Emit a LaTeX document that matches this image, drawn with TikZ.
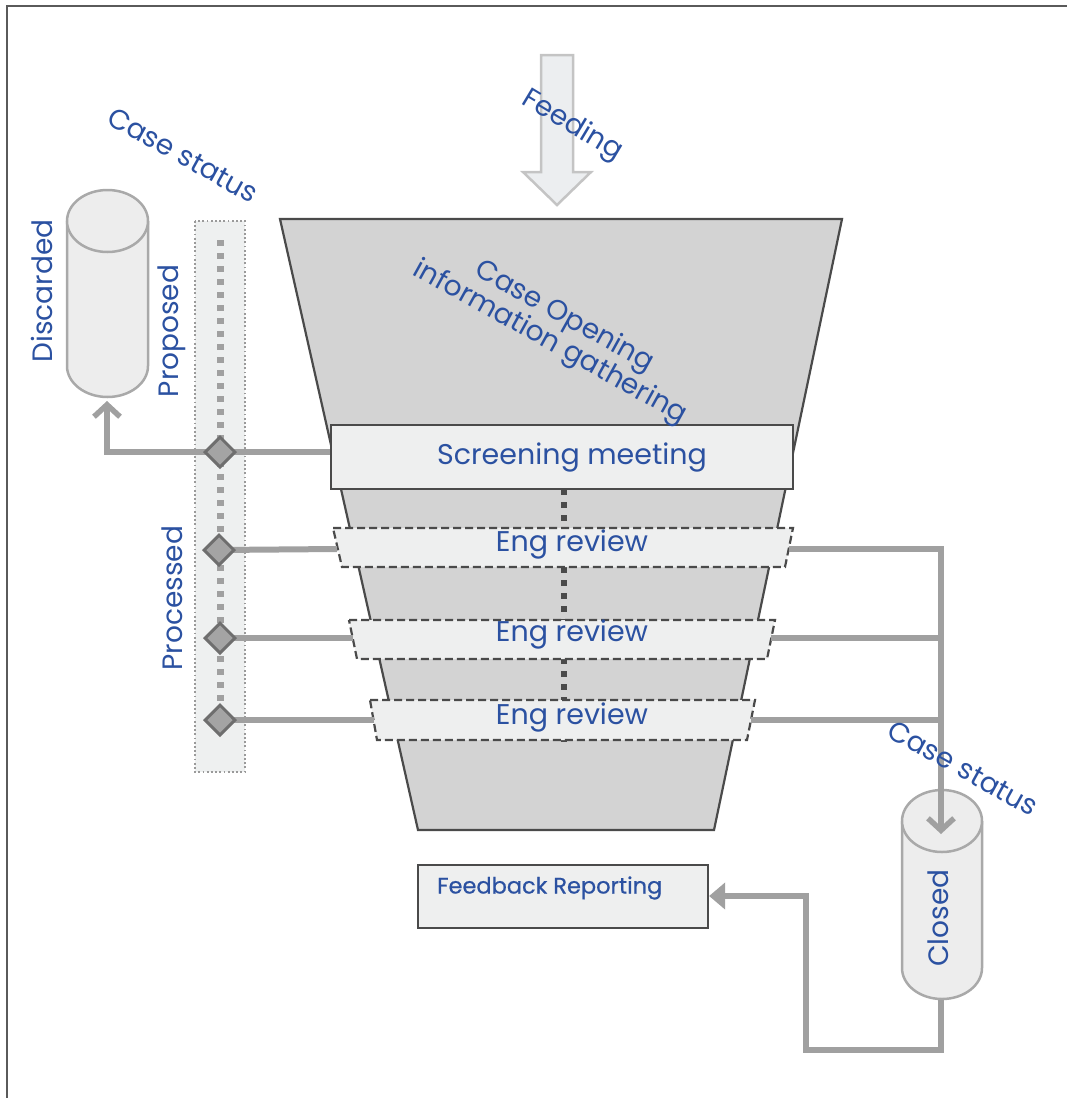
\documentclass[tikz,border=0pt]{standalone}
\usepackage{fontspec}
\setmainfont{Poppins}
\usetikzlibrary{shapes.geometric,arrows.meta}
\definecolor{txtblue}{HTML}{2B51A1}
\definecolor{funfill}{HTML}{D3D3D3}
\definecolor{funline}{HTML}{4A4A4A}
\definecolor{boxfill}{HTML}{EEEFEF}
\definecolor{conn}{HTML}{A0A0A0}
\definecolor{cylfill}{HTML}{EDEDED}
\definecolor{cylline}{HTML}{A9A9A9}
\definecolor{barfill}{HTML}{EEF0F0}
\definecolor{barline}{HTML}{9A9A9A}
\definecolor{diafill}{HTML}{A4A4A4}
\definecolor{dialine}{HTML}{6E6E6E}
\definecolor{feedfill}{HTML}{ECEEF0}
\definecolor{feedline}{HTML}{C4C4C4}
\definecolor{framec}{HTML}{5A5A5A}
\tikzset{
  lbl/.style={text=txtblue, font=\fontsize{28}{32}\selectfont, inner sep=0pt},
  boxlbl/.style={text=txtblue, font=\fontsize{28.5}{32}\selectfont, inner sep=0pt},
  connline/.style={draw=conn, line width=6pt},
  barb/.style={-{Straight Barb[length=12pt,width=26pt,line width=5.5pt]}},
  tri/.style={-{Triangle[length=16pt,width=26pt]}},
  diam/.style={diamond, draw=dialine, fill=diafill, line width=3pt, minimum size=31pt, inner sep=0pt},
  engbox/.style={draw=funline, fill=boxfill, line width=2.2pt, dash pattern=on 8pt off 4pt},
  cyl/.style={draw=cylline, fill=cylfill, line width=2.5pt},
}
\begin{document}
\begin{tikzpicture}[x=1pt,y=-1pt]
\useasboundingbox (0,0) rectangle (1067,1098);
% frame
\draw[framec, line width=2.5pt] (7,1098) -- (7,6) -- (1067,6);
% status bar
\draw[draw=barline, fill=barfill, line width=1.8pt, dash pattern=on 1.8pt off 2.4pt] (195,221) rectangle (245,772);
\coordinate (bartop) at (220,240);
\coordinate (barbot) at (220,722);
\draw[draw=conn, line width=7pt, dash pattern=on 6pt off 7pt] (bartop) -- (barbot);
% funnel
\draw[draw=funline, fill=funfill, line width=2.2pt] (280,219) -- (842,219) -- (714,830) -- (418,830) -- cycle;
% funnel internal dotted line
\coordinate (ft) at (564,489);
\coordinate (fb) at (564,742);
\draw[draw=funline, line width=6pt, dash pattern=on 6pt off 7pt] (ft) -- (fb);
% screening meeting
\node[draw=funline, fill=boxfill, line width=2.2pt, minimum width=462pt, minimum height=64pt, inner sep=0pt] (scr) at (562,457) {};
\node[boxlbl] (scrt) at (572,457) {Screening meeting};
% eng review boxes
\draw[engbox] (333,528) -- (793,528) -- (785,567) -- (342,567) -- cycle;
\draw[engbox] (349,620) -- (775,620) -- (767,659) -- (357,659) -- cycle;
\draw[engbox] (370,700) -- (755,700) -- (747,740) -- (377,740) -- cycle;
\node[boxlbl] (er1) at (572,544) {Eng review};
\node[boxlbl] (er2) at (572,634) {Eng review};
\node[boxlbl] (er3) at (572,717) {Eng review};
\coordinate (er1L) at (337,549);
\coordinate (er2L) at (353,638);
\coordinate (er3L) at (374,720);
\coordinate (er1R) at (789,549);
\coordinate (er2R) at (771,638);
\coordinate (er3R) at (751,720);
% cylinders
\draw[cyl] (67,221) -- (67,366) arc[start angle=180, end angle=360, x radius=40.5pt, y radius=31pt] -- (148,221);
\draw[cyl] (107.5,221) ellipse[x radius=40.5pt, y radius=31pt];
\node[inner sep=0pt, minimum width=81pt, minimum height=207pt] (disc) at (107.5,293.5) {};
\draw[cyl] (902,821) -- (902,968) arc[start angle=180, end angle=360, x radius=40pt, y radius=31pt] -- (982,821);
\draw[cyl] (942,821) ellipse[x radius=40pt, y radius=31pt];
\node[inner sep=0pt, minimum width=80pt, minimum height=210pt] (clos) at (942,895) {};
% diamond positions
\coordinate (d1c) at (220,452);
\coordinate (d2c) at (219,550);
\coordinate (d3c) at (220,638);
\coordinate (d4c) at (220,720);
\coordinate (k1) at (107,452);
\coordinate (ltip) at (107,401);
\coordinate (rv) at (941,549);
\coordinate (rv2) at (941,638);
\coordinate (rv3) at (941,720);
\coordinate (rtip) at (941,834);
% left connectors
\draw[connline, barb] (scr.west |- d1c) -- (d1c) -- (k1) -- (ltip);
\draw[connline] (d2c) -- (er1L);
\draw[connline] (d3c) -- (er2L);
\draw[connline] (d4c) -- (er3L);
% right connectors
\draw[connline, barb, line join=miter] (er1R) -- (rv) -- (rtip);
\draw[connline] (er2R) -- (rv2);
\draw[connline] (er3R) -- (rv3);
% diamonds
\node[diam] (d1) at (d1c) {};
\node[diam] (d2) at (d2c) {};
\node[diam] (d3) at (d3c) {};
\node[diam] (d4) at (d4c) {};
% feedback
\node[draw=funline, fill=boxfill, line width=2.2pt, minimum width=290pt, minimum height=63pt, inner sep=0pt] (fb) at (563,896.5) {};
\node[text=txtblue, font=\fontsize{22.5}{26}\selectfont\addfontfeature{FakeBold=0.6}, inner sep=0pt, anchor=west] (fbt) at (437,888) {Feedback Reporting};
\coordinate (q1) at (941,1050);
\coordinate (q2) at (806,1050);
\coordinate (q3) at (806,896);
\draw[connline, tri, line join=miter] (clos.south -| q1) -- (q1) -- (q2) -- (q3) -- (fb.east |- q3);
% feeding arrow
\draw[draw=feedline, fill=feedfill, line width=2.5pt, line join=miter] (541,55) -- (573,55) -- (573,172) -- (591,172) -- (557,205) -- (523,172) -- (541,172) -- cycle;
\node[lbl, rotate=-31] (feed) at (572,126) {Feeding};
% texts
\node[lbl, rotate=-29] (cs1) at (183,155) {Case status};
\node[lbl, rotate=-29] (cs2) at (963,768) {Case status};
\node[lbl, rotate=90] (tdisc) at (42,291) {Discarded};
\node[lbl, rotate=90] (tprop) at (172,331) {Proposed};
\node[lbl, rotate=90] (tproc) at (172,598) {Processed};
\node[lbl, rotate=90] (tclos) at (938,918) {Closed};
\node[lbl, rotate=-29, align=center, font=\fontsize{28}{29}\selectfont] (open) at (557,330) {Case Opening\\information gathering};
\end{tikzpicture}
\end{document}
